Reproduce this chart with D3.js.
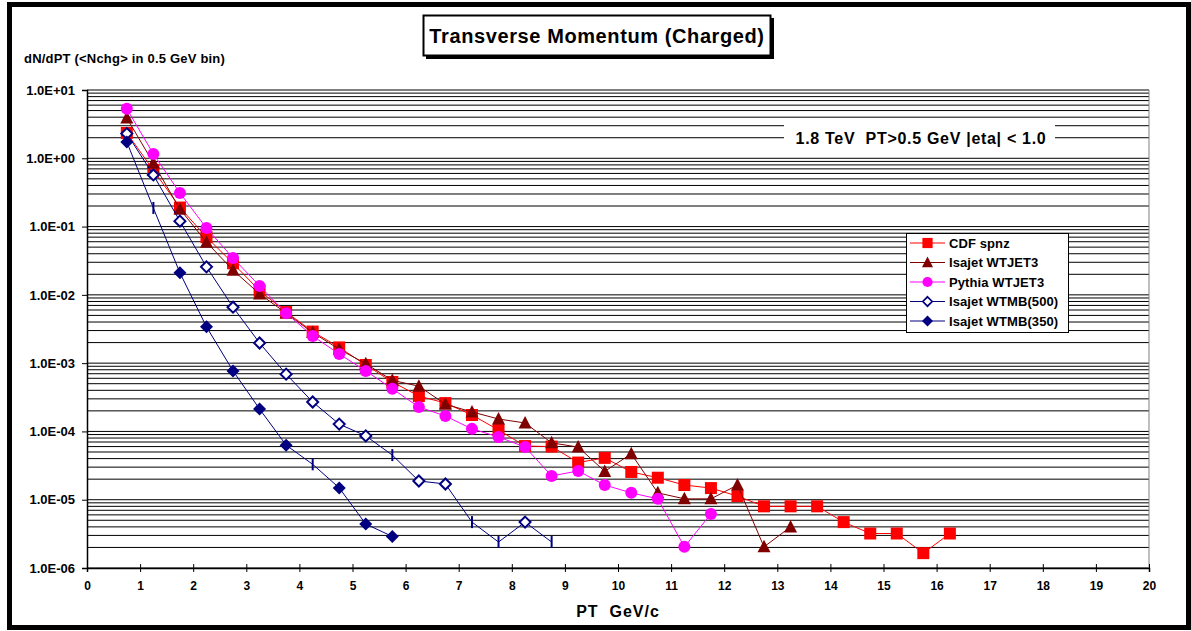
<!DOCTYPE html>
<meta charset="utf-8">
<style>
body { margin: 0; background: #fff; }
text { font-family: "Liberation Sans", Arial, sans-serif; font-weight: bold; fill: #000; }
</style>
<body>
<svg width="1191" height="631"></svg>
<script src="https://cdn.jsdelivr.net/npm/d3@7"></script>
<script>

// bin centres (GeV/c)
var pt = [0.75, 1.25, 1.75, 2.25, 2.75, 3.25, 3.75, 4.25, 4.75, 5.25, 5.75, 6.25, 6.75, 7.25, 7.75,
          8.25, 8.75, 9.25, 9.75, 10.25, 10.75, 11.25, 11.75, 12.25, 12.75, 13.25, 13.75, 14.25, 14.75,
          15.25, 15.75, 16.25];

var cdfSpnz = [2.35, 0.67, 0.19, 0.07, 0.029, 0.0115, 0.0056, 0.0029, 0.0017, 0.00094, 0.00053, 0.00033,
               0.00026, 0.000174, 0.000105, 6.1e-5, 6.0e-5, 3.5e-5, 4.1e-5, 2.55e-5, 2.1e-5, 1.64e-5,
               1.48e-5, 1.13e-5, 8.0e-6, 8.0e-6, 8.0e-6, 4.7e-6, 3.2e-6, 3.2e-6, 1.65e-6, 3.2e-6];

var isajetWTJET3 = [3.9, 0.85, 0.18, 0.059, 0.023, 0.0103, 0.0054, 0.0028, 0.0016, 0.00098, 0.00056,
                    0.00046, 0.00025, 0.000193, 0.000152, 0.000133, 6.8e-5, 5.9e-5, 2.6e-5, 4.7e-5,
                    1.26e-5, 1.03e-5, 1.03e-5, 1.64e-5, 2.04e-6, 4.0e-6];

var pythiaWTJET3 = [5.3, 1.16, 0.31, 0.095, 0.0346, 0.0135, 0.0054, 0.0025, 0.00136, 0.00077, 0.00042,
                    0.000228, 0.000168, 0.000109, 8.3e-5, 5.9e-5, 2.23e-5, 2.64e-5, 1.64e-5, 1.26e-5,
                    1.03e-5, 2.04e-6, 6.2e-6];

var isajetWTMB500 = [2.3, 0.57, 0.12, 0.0257, 0.0066, 0.00197, 0.00069, 0.00027, 0.000128, 8.6e-5,
                     4.5e-5, 1.88e-5, 1.7e-5, 4.7e-6, 2.4e-6, 4.7e-6, 2.4e-6];

var isajetWTMB350 = [1.73, 0.187, 0.021, 0.0034, 0.00077, 0.000213, 6.3e-5, 3.3e-5, 1.49e-5, 4.4e-6, 2.9e-6];

// points plotted with a bar instead of the diamond
var barPoints500 = [5.75, 7.25, 7.75, 8.75];
var barPoints350 = [1.25, 4.25];

var xTicks = d3.range(0, 21);
var yTicks = [1e1, 1e0, 1e-1, 1e-2, 1e-3, 1e-4, 1e-5, 1e-6];

var series = [
  {name: "CDF spnz", values: cdfSpnz, color: "#ff0000", marker: "square"},
  {name: "Isajet WTJET3", values: isajetWTJET3, color: "#800000", marker: "triangle"},
  {name: "Pythia WTJET3", values: pythiaWTJET3, color: "#ff00ff", marker: "circle"},
  {name: "Isajet WTMB(500)", values: isajetWTMB500, color: "#000080", marker: "open", bars: barPoints500},
  {name: "Isajet WTMB(350)", values: isajetWTMB350, color: "#000080", marker: "diamond", bars: barPoints350}
];

var svg = d3.select("svg");

var x = d3.scaleLinear().domain([0, 20]).range([87, 1149]);
var y = d3.scaleLog().domain([1e-6, 1e1]).range([568, 90]);

// outer frame
svg.append("rect")
    .attr("x", 9.5).attr("y", 4.5)
    .attr("width", 1179).attr("height", 623)
    .attr("fill", "#fff").attr("stroke", "#000").attr("stroke-width", 5);

// gridlines (major + minor)
var grid = [];
for (var k = -6; k < 1; k++) {
  for (var m = 1; m < 10; m++) grid.push(m * Math.pow(10, k));
}
grid.push(10);
svg.append("g").selectAll("line")
    .data(grid)
    .enter().append("line")
      .attr("x1", x(0)).attr("x2", x(20))
      .attr("y1", function(d) { return y(d); })
      .attr("y2", function(d) { return y(d); })
      .attr("stroke", "#000").attr("stroke-width", 1);

// right border of plot area
svg.append("line")
    .attr("x1", x(20)).attr("x2", x(20)).attr("y1", y(10)).attr("y2", y(1e-6))
    .attr("stroke", "#808080");

// annotation box
svg.append("rect")
    .attr("x", 784).attr("y", 120).attr("width", 271).attr("height", 33)
    .attr("fill", "#fff");
svg.append("text")
    .attr("x", 921).attr("y", 144)
    .attr("text-anchor", "middle")
    .style("font-size", "16px")
    .style("letter-spacing", "0.7px")
    .attr("xml:space", "preserve")
    .text("1.8 TeV  PT>0.5 GeV |eta| < 1.0");

// axes
var xAxis = svg.append("g")
    .attr("transform", "translate(0," + y(1e-6) + ")")
    .call(d3.axisBottom(x).tickValues(xTicks).tickSize(4).tickFormat(d3.format("d")));
xAxis.selectAll(".tick line").attr("y1", -4).attr("stroke", "#000");
xAxis.selectAll(".tick text").attr("dy", "1.25em").style("font-size", "12px");
xAxis.select(".domain").attr("stroke", "#000").attr("stroke-width", 1.5);

var yAxis = svg.append("g")
    .attr("transform", "translate(" + x(0) + ",0)")
    .call(d3.axisLeft(y).tickValues(yTicks).tickSize(5)
      .tickFormat(function(d) {
        var e = Math.round(Math.log10(d));
        return "1.0E" + (e < 0 ? "-" : "+") + String(Math.abs(e)).padStart(2, "0");
      }));
yAxis.selectAll(".tick text").attr("x", -12).style("font-size", "13px");
yAxis.select(".domain").attr("stroke", "#000").attr("stroke-width", 1.5);

// titles
svg.append("rect")
    .attr("x", 426).attr("y", 18).attr("width", 348).attr("height", 41)
    .attr("fill", "#000");
svg.append("rect")
    .attr("x", 423.5).attr("y", 15.5).attr("width", 347).attr("height", 40)
    .attr("fill", "#fff").attr("stroke", "#000").attr("stroke-width", 2);
svg.append("text")
    .attr("x", 597).attr("y", 43)
    .attr("text-anchor", "middle")
    .style("font-size", "20px")
    .style("letter-spacing", "0.6px")
    .text("Transverse Momentum (Charged)");

svg.append("text")
    .attr("x", 24).attr("y", 63)
    .style("font-size", "13px")
    .style("letter-spacing", "0.2px")
    .text("dN/dPT (<Nchg> in 0.5 GeV bin)");

svg.append("text")
    .attr("x", 618).attr("y", 617)
    .attr("text-anchor", "middle")
    .style("font-size", "16px")
    .style("letter-spacing", "1px")
    .attr("xml:space", "preserve")
    .text("PT  GeV/c");

// markers
function drawMarker(sel, type, color, isBar) {
  if (isBar) {
    sel.append("line")
        .attr("y1", -6).attr("y2", 6)
        .attr("stroke", color).attr("stroke-width", 2);
    return;
  }
  if (type === "square") {
    sel.append("rect").attr("x", -6).attr("y", -6).attr("width", 12).attr("height", 12)
        .attr("fill", color);
  } else if (type === "triangle") {
    sel.append("path").attr("d", "M0,-7L6.5,5.5L-6.5,5.5Z").attr("fill", color);
  } else if (type === "circle") {
    sel.append("circle").attr("r", 6).attr("fill", color);
  } else if (type === "diamond") {
    sel.append("path").attr("d", "M0,-6.5L6.5,0L0,6.5L-6.5,0Z").attr("fill", color);
  } else if (type === "open") {
    sel.append("path").attr("d", "M0,-5.5L5.5,0L0,5.5L-5.5,0Z")
        .attr("fill", "#fff").attr("stroke", color).attr("stroke-width", 2);
  }
}

var line = d3.line()
    .x(function(d) { return x(d[0]); })
    .y(function(d) { return y(d[1]); });

series.forEach(function(s) {
  var pts = s.values.map(function(v, i) { return [pt[i], v]; });
  var g = svg.append("g");
  g.append("path")
      .attr("d", line(pts))
      .attr("fill", "none")
      .attr("stroke", s.color)
      .attr("stroke-width", 1);
  g.selectAll("g.mk")
      .data(pts)
      .enter().append("g")
        .attr("class", "mk")
        .attr("transform", function(d) { return "translate(" + x(d[0]) + "," + y(d[1]) + ")"; })
        .each(function(d) {
          drawMarker(d3.select(this), s.marker, s.color, s.bars && s.bars.indexOf(d[0]) >= 0);
        });
});

// legend
var legend = svg.append("g").attr("transform", "translate(906,233)");
legend.append("rect")
    .attr("x", 0.5).attr("y", 0.5).attr("width", 162).attr("height", 99)
    .attr("fill", "#fff").attr("stroke", "#000");
var item = legend.selectAll("g.item")
    .data(series)
    .enter().append("g")
      .attr("class", "item")
      .attr("transform", function(d, i) { return "translate(0," + (10 + i * 19.5) + ")"; });
item.append("line")
    .attr("x1", 4).attr("x2", 39)
    .attr("stroke", function(d) { return d.color; });
item.each(function(d) {
  var m = d3.select(this).append("g").attr("transform", "translate(21.5,0) scale(0.85)");
  drawMarker(m, d.marker, d.color, false);
});
item.append("text")
    .attr("x", 43).attr("y", 4.5)
    .style("font-size", "13px")
    .style("letter-spacing", "0.1px")
    .text(function(d) { return d.name; });

</script>
</body>
